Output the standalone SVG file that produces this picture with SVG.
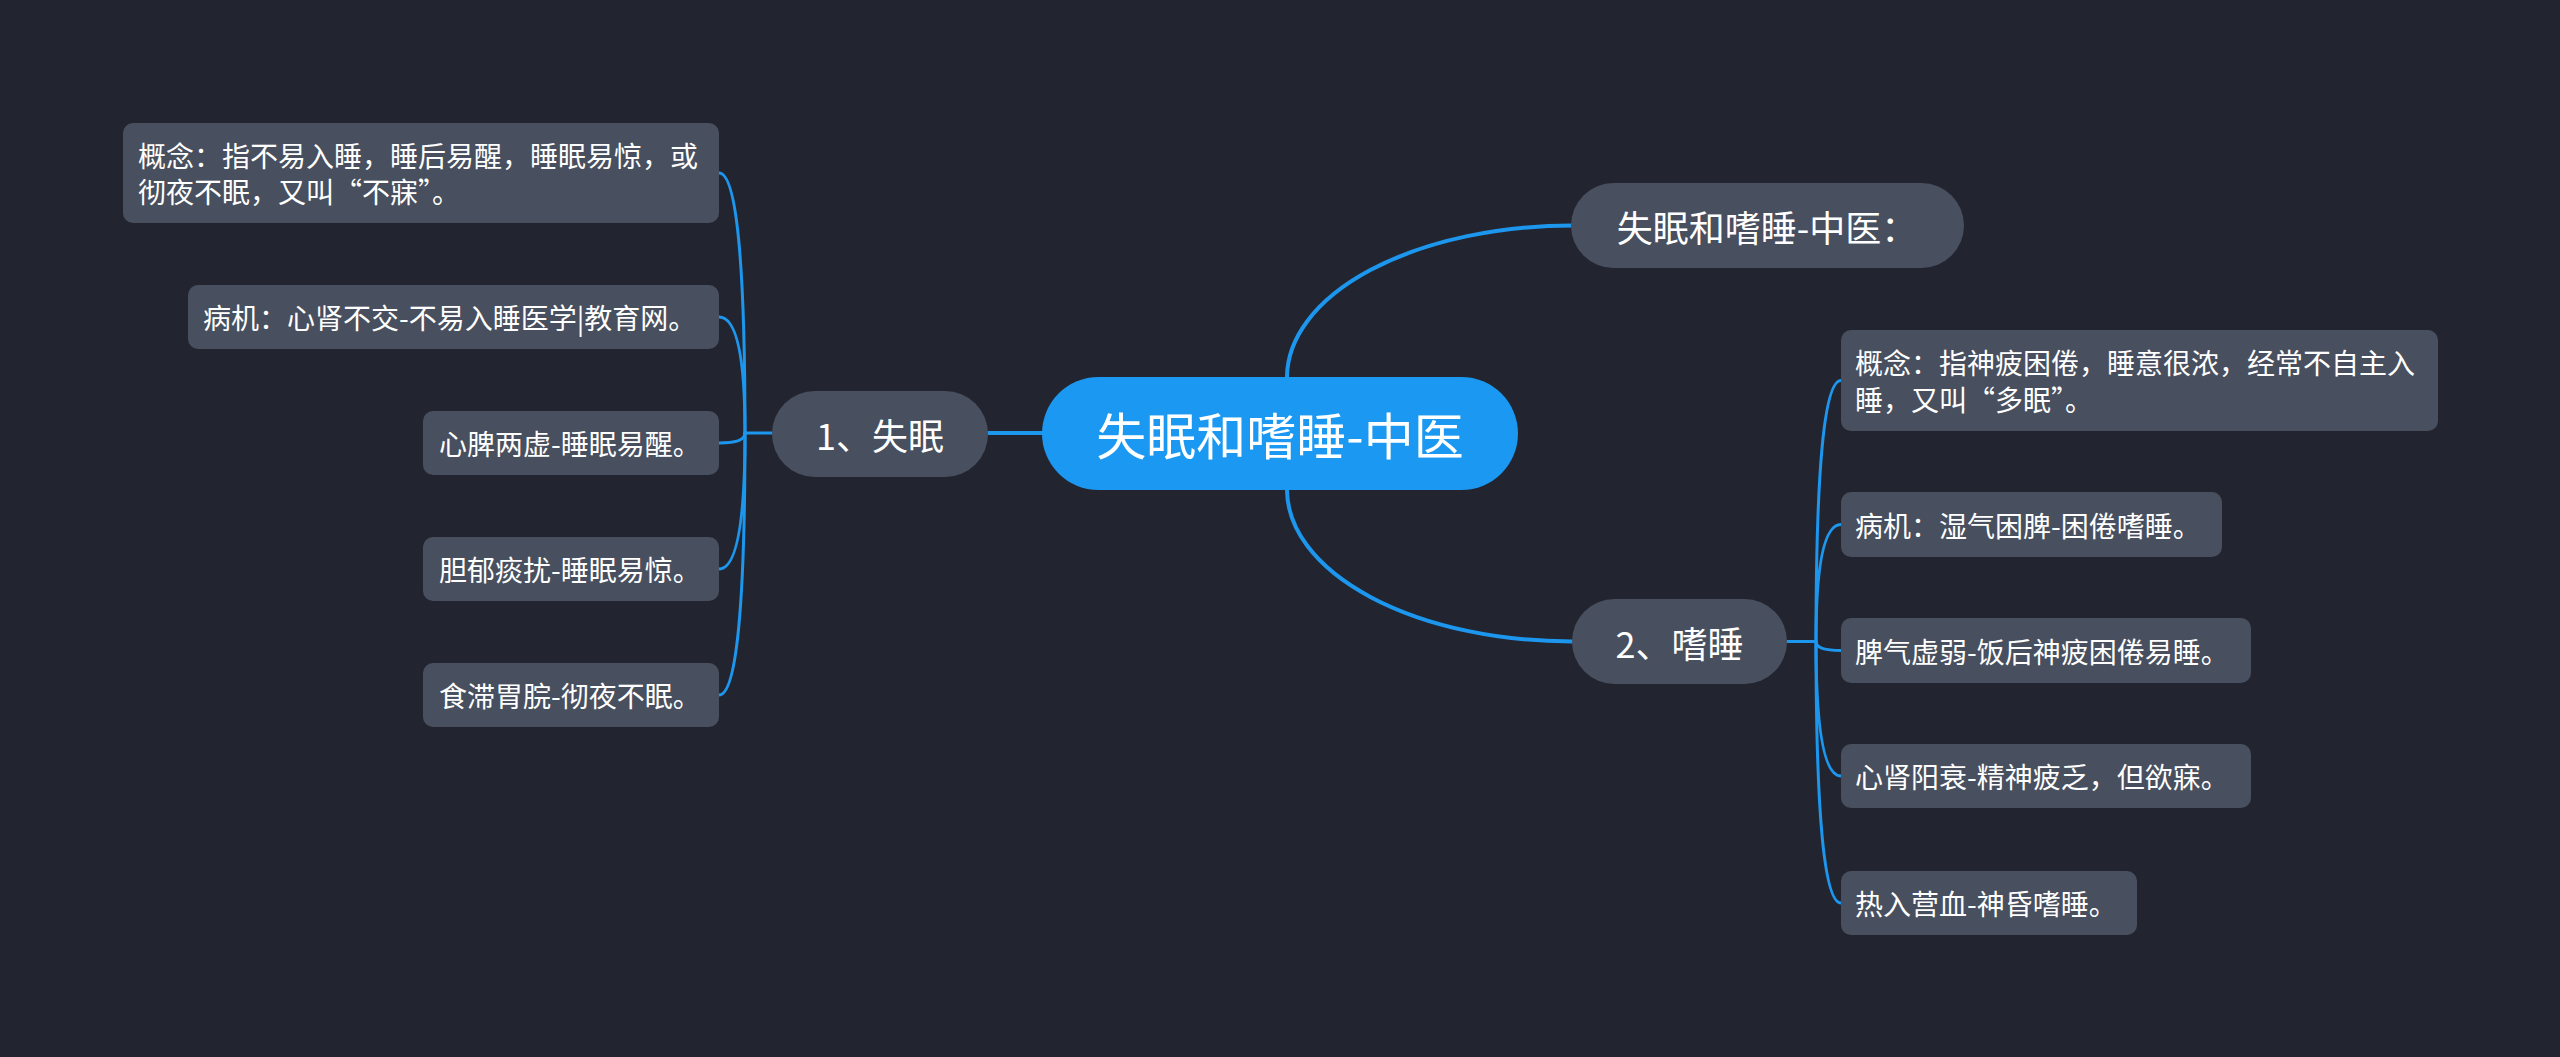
<svg xmlns="http://www.w3.org/2000/svg" width="2560" height="1057" viewBox="0 0 2560 1057">
<defs>
<style>
.bg{fill:#222530}
.conn{fill:none;stroke:#1d96ee;stroke-width:3;stroke-linecap:round}
.main{stroke-width:4}
.root{fill:#1b98f1}
.l1{fill:#484f5e}
.leaf{fill:#484f5e}
text{font-family:"Noto Sans CJK SC","Noto Sans",sans-serif;fill:#ffffff;dominant-baseline:central}
.t0{font-size:50px;text-anchor:middle}
.t1{font-size:36px;text-anchor:middle}
.t2{font-size:28px}
</style>
</defs>
<rect class="bg" x="0" y="0" width="2560" height="1057"/>
<g id="connectors">
<path class="conn main" d="M1042 433 H988"/>
<path class="conn main" d="M1287 377 A285 152 0 0 1 1572 225.5"/>
<path class="conn main" d="M1287 490 A285 152 0 0 0 1572 641.5"/>
<path class="conn" d="M772 433 H745"/>
<path class="conn" d="M745 433 Q745 173 719 173"/>
<path class="conn" d="M745 433 Q745 317 719 317"/>
<path class="conn" d="M745 433 Q745 443 719 443"/>
<path class="conn" d="M745 433 Q745 569 719 569"/>
<path class="conn" d="M745 433 Q745 695 719 695"/>
<path class="conn" d="M1787 641.5 H1816"/>
<path class="conn" d="M1816 641.5 Q1816 380.5 1841 380.5"/>
<path class="conn" d="M1816 641.5 Q1816 524.5 1841 524.5"/>
<path class="conn" d="M1816 641.5 Q1816 650.5 1841 650.5"/>
<path class="conn" d="M1816 641.5 Q1816 776 1841 776"/>
<path class="conn" d="M1816 641.5 Q1816 903 1841 903"/>
</g>
<g id="root">
<rect class="root" x="1042" y="377" width="476" height="113" rx="56.5"/>
<text class="t0" x="1280" y="433">失眠和嗜睡-中医</text>
</g>
<g id="n-shimian">
<rect class="l1" x="772" y="391" width="216" height="86" rx="43"/>
<text class="t1" x="880" y="434">1、失眠</text>
</g>
<g id="n-title">
<rect class="l1" x="1571" y="183" width="393" height="85" rx="42.5"/>
<text class="t1" x="1767" y="225.5">失眠和嗜睡-中医：</text>
</g>
<g id="n-shishui">
<rect class="l1" x="1572" y="599" width="215" height="85" rx="42.5"/>
<text class="t1" x="1679.5" y="641.5">2、嗜睡</text>
</g>
<g id="a1">
<rect class="leaf" x="123" y="123" width="596" height="100" rx="10"/>
<text class="t2" x="138" y="155">概念：指不易入睡，睡后易醒，睡眠易惊，或</text>
<text class="t2" x="138" y="191">彻夜不眠，又叫“不寐”。</text>
</g>
<g id="a2">
<rect class="leaf" x="188" y="285" width="531" height="64" rx="10"/>
<text class="t2" x="203" y="317">病机：心肾不交-不易入睡医学|教育网。</text>
</g>
<g id="a3">
<rect class="leaf" x="423" y="411" width="296" height="64" rx="10"/>
<text class="t2" x="439" y="443">心脾两虚-睡眠易醒。</text>
</g>
<g id="a4">
<rect class="leaf" x="423" y="537" width="296" height="64" rx="10"/>
<text class="t2" x="439" y="569">胆郁痰扰-睡眠易惊。</text>
</g>
<g id="a5">
<rect class="leaf" x="423" y="663" width="296" height="64" rx="10"/>
<text class="t2" x="439" y="695">食滞胃脘-彻夜不眠。</text>
</g>
<g id="b1">
<rect class="leaf" x="1841" y="330" width="597" height="101" rx="10"/>
<text class="t2" x="1855" y="362">概念：指神疲困倦，睡意很浓，经常不自主入</text>
<text class="t2" x="1855" y="399">睡，又叫“多眠”。</text>
</g>
<g id="b2">
<rect class="leaf" x="1841" y="492" width="381" height="65" rx="10"/>
<text class="t2" x="1855" y="524.5">病机：湿气困脾-困倦嗜睡。</text>
</g>
<g id="b3">
<rect class="leaf" x="1841" y="618" width="410" height="65" rx="10"/>
<text class="t2" x="1855" y="650.5">脾气虚弱-饭后神疲困倦易睡。</text>
</g>
<g id="b4">
<rect class="leaf" x="1841" y="744" width="410" height="64" rx="10"/>
<text class="t2" x="1855" y="776">心肾阳衰-精神疲乏，但欲寐。</text>
</g>
<g id="b5">
<rect class="leaf" x="1841" y="871" width="296" height="64" rx="10"/>
<text class="t2" x="1855" y="903">热入营血-神昏嗜睡。</text>
</g>
</svg>
